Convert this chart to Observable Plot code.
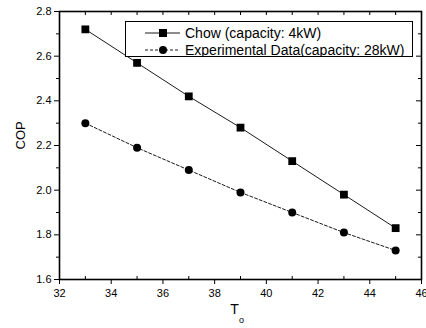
<!DOCTYPE html>
<html><head><meta charset="utf-8">
<script src="https://cdn.jsdelivr.net/npm/d3@7"></script>
<script src="https://cdn.jsdelivr.net/npm/@observablehq/plot@0.6"></script>
<style>
body{margin:0;background:#fff;}
#wrap{position:relative;width:426px;height:328px;font-family:"Liberation Sans",Arial,sans-serif;}
#legend{position:absolute;left:125px;top:21px;}
</style></head><body><div id="wrap"></div>
<script>
const temps = [33, 35, 37, 39, 41, 43, 45];
const chowCOP = [2.72, 2.57, 2.42, 2.28, 2.13, 1.98, 1.83];
const expCOP = [2.30, 2.19, 2.09, 1.99, 1.90, 1.81, 1.73];
const seriesNames = ["Chow (capacity: 4kW)", "Experimental Data(capacity: 28kW)"];
const xMajor = [32, 34, 36, 38, 40, 42, 44, 46];
const xMinor = [33, 35, 37, 39, 41, 43, 45];
const yMajor = [1.6, 1.8, 2.0, 2.2, 2.4, 2.6, 2.8];
const yMinor = [1.7, 1.9, 2.1, 2.3, 2.5, 2.7];
const yLabel = "COP";
const xLabelMain = "T";
const xLabelSub = "o";

const chow = temps.map((t, i) => ({t, v: chowCOP[i]}));
const exper = temps.map((t, i) => ({t, v: expCOP[i]}));

const W = 426, H = 328, mT = 11, mB = 49, mL = 59, mR = 5;
const innerH = H - mT - mB, innerW = W - mL - mR;

const chart = Plot.plot({
  width: W, height: H,
  marginTop: mT, marginBottom: mB, marginLeft: mL, marginRight: mR,
  style: {fontFamily: '"Liberation Sans", Arial, sans-serif', fontSize: "11px", color: "#000", background: "#fff"},
  x: {domain: [32, 46]},
  y: {domain: [1.6, 2.8]},
  marks: [
    // left axis
    Plot.axisY({anchor: "left", ticks: yMajor, tickSize: 5, tickPadding: 3, tickFormat: d3.format(".1f"), label: null, stroke: "#000", fontSize: 11}),
    Plot.axisY({anchor: "left", ticks: yMinor, tickSize: 3, text: null, label: null, stroke: "#000"}),
    // bottom axis
    Plot.axisX({anchor: "bottom", ticks: xMajor, tickSize: 5, tickPadding: 5, tickFormat: d3.format("d"), label: null, stroke: "#000", fontSize: 11}),
    Plot.ruleX(xMinor, {x: d => d, insetTop: innerH - 3, stroke: "#000"}),
    // top inward ticks
    Plot.ruleX(xMajor.concat(xMinor), {x: d => d, insetBottom: innerH - 4, stroke: "#000"}),
    // right inward ticks
    Plot.ruleY(yMajor, {y: d => d, insetLeft: innerW - 5, stroke: "#000"}),
    Plot.ruleY(yMinor, {y: d => d, insetLeft: innerW - 3, stroke: "#000"}),
    Plot.frame({stroke: "#000", strokeWidth: 1.6}),
    // series
    Plot.line(chow, {x: "t", y: "v", stroke: "#000", strokeWidth: 0.9}),
    Plot.line(exper, {x: "t", y: "v", stroke: "#000", strokeWidth: 0.9, strokeDasharray: "3,2"}),
    Plot.dot(chow, {x: "t", y: "v", symbol: "square", r: 4.4, fill: "#000", stroke: "none"}),
    Plot.dot(exper, {x: "t", y: "v", symbol: "circle", r: 4, fill: "#000", stroke: "none"}),
    // axis labels
    Plot.text([yLabel], {frameAnchor: "left", dx: -39, dy: 4, rotate: -90, fontSize: 13, fill: "#000"}),
    Plot.text([xLabelMain], {frameAnchor: "bottom", dx: -6, dy: 34, fontSize: 14, fill: "#000"}),
    Plot.text([xLabelSub], {frameAnchor: "bottom", dx: 1, dy: 43, fontSize: 9, fill: "#000"})
  ]
});

const wrap = document.getElementById("wrap");
wrap.appendChild(chart);

// legend overlay
const lw = 288, lh = 36;
const leg = d3.select(wrap).append("div").attr("id", "legend")
  .append("svg").attr("width", lw).attr("height", lh)
  .style("font-family", '"Liberation Sans", Arial, sans-serif');
leg.append("rect").attr("x", 0.5).attr("y", 0.5).attr("width", lw - 1).attr("height", lh - 1)
  .attr("fill", "#fff").attr("stroke", "#000").attr("stroke-width", 1);
seriesNames.forEach((name, i) => {
  const cy = 12 + i * 17;
  leg.append("line").attr("x1", 20).attr("x2", 55).attr("y1", cy).attr("y2", cy)
    .attr("stroke", "#000").attr("stroke-width", 0.9).attr("stroke-dasharray", i ? "3,2" : null);
  if (i === 0) leg.append("rect").attr("x", 34).attr("y", cy - 4).attr("width", 8).attr("height", 8).attr("fill", "#000");
  else leg.append("circle").attr("cx", 38).attr("cy", cy).attr("r", 4).attr("fill", "#000");
  leg.append("text").attr("x", 60).attr("y", cy).attr("dy", "0.35em").attr("font-size", 14).attr("fill", "#000").text(name);
});
</script></body></html>
